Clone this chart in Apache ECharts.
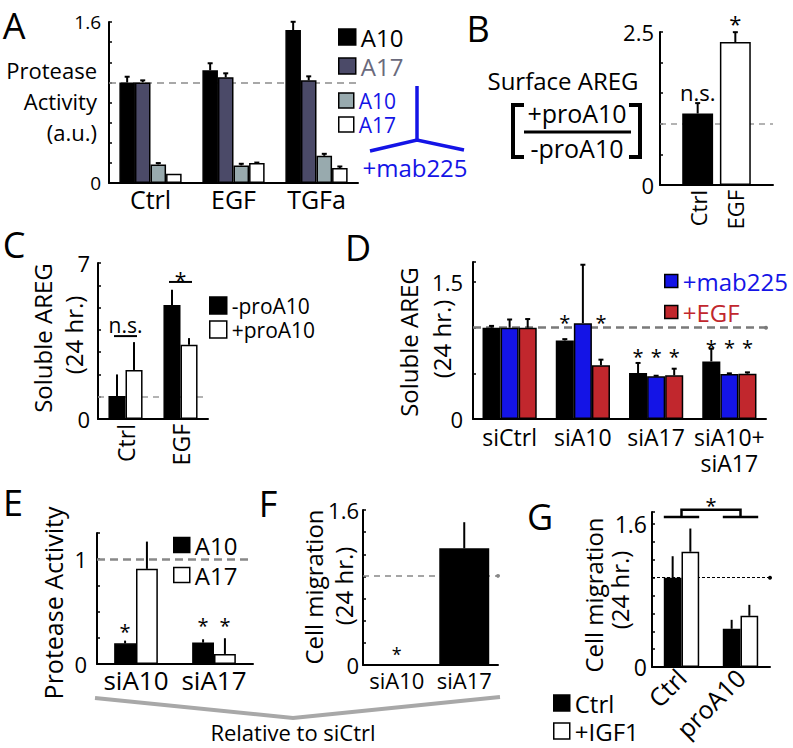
<!DOCTYPE html>
<html><head><meta charset="utf-8">
<script src="https://cdn.jsdelivr.net/npm/echarts@6/dist/echarts.min.js"></script>
<style>html,body{margin:0;padding:0;background:#fff}#c{width:793px;height:748px}</style>
</head><body><div id="c"></div>
<script>
// ---------------- DATA ----------------
// Panel A : protease activity (a.u.)
const aCats = ['Ctrl', 'EGF', 'TGFa'];
const aA10 = [1.0, 1.12, 1.52];
const aA10Err = [0.056, 0.07, 0.082];
const aA17 = [1.0, 1.05, 1.02];
const aA17Err = [0.02, 0.04, 0.04];
const aA10mab = [0.185, 0.175, 0.27];
const aA10mabErr = [0.013, 0.016, 0.02];
const aA17mab = [0.092, 0.198, 0.148];
const aA17mabErr = [0, 0.005, 0.016];
const aYTicks = ['0', '1.6'];

// Panel B : surface AREG ratio
const bCats = ['', 'Ctrl', 'EGF', ''];
const bVals = [null, 1.168, 2.337, null];
const bErr = [null, 0.17, 0.16, null];
const bNoteCat = [1, 2];
const bNoteY = [1.52, 2.72];
const bNoteText = ['n.s.', '*'];
const bYTicks = ['0', '2.5'];

// Panel C : soluble AREG
const cCats = ['Ctrl', 'EGF'];
const cMinus = [1.03, 5.11];
const cMinusErr = [0.97, 0.69];
const cPlus = [2.2, 3.33];
const cPlusErr = [1.25, 0.3];
const cSigLineY = [3.72, 6.15];
const cSigTextY = [4.2, 6.46];
const cSigText = ['n.s.', '*'];
const cYTicks = ['0', '7'];

// Panel D : soluble AREG, siRNA
const dCats = ['siCtrl', 'siA10', 'siA17', 'siA10+\nsiA17'];
const dCtrl = [1.0, 0.86, 0.504, 0.631];
const dCtrlErr = [0.02, 0.015, 0.11, 0.139];
const dMab = [1.0, 1.05, 0.467, 0.493];
const dMabErr = [0.09, 0.64, 0.007, 0.007];
const dEgf = [1.0, 0.588, 0.478, 0.496];
const dEgfErr = [0.095, 0.062, 0.073, 0.015];
const dStarCat = [1, 1, 2, 2, 2, 3, 3, 3];
const dStarBar = [0, 2, 0, 1, 2, 0, 1, 2];
const dStarY = [1.1, 1.1, 0.73, 0.73, 0.73, 0.83, 0.83, 0.83];
const dYTicks = ['0', '1.5'];

// Panel E : protease activity, siRNA
const eCats = ['siA10', 'siA17'];
const eA10 = [0.197, 0.204];
const eA10Err = [0.026, 0.032];
const eA17 = [0.908, 0.096];
const eA17Err = [0.26, 0.15];
const eStarCat = [0, 1, 1];
const eStarBar = [0, 0, 1];
const eStarY = [0.35, 0.41, 0.41];
const eYTicks = ['0', '1'];

// Panel F : cell migration, siRNA
const fCats = ['siA10', 'siA17'];
const fVals = [0, 1.204];
const fErr = [0, 0.27];
const fStarCat = [0];
const fStarBar = [0];
const fStarY = [0.15];
const fRef = [0.922];
const fYTicks = ['0', '1.6'];

// Panel G : cell migration, proA10
const gCats = ['Ctrl', 'proA10'];
const gCtrl = [1.0, 0.428];
const gCtrlErr = [0.24, 0.1];
const gIgf = [1.29, 0.573];
const gIgfErr = [0.26, 0.123];
const gSigCats = [0, 1];
const gSigLevels = [1.68, 1.76];
const gSigStarY = [1.85];
const gSigText = ['*'];
const gYTicks = ['0', '1.6'];

// legend labels
const legendText = {
  'A:A10': 'A10', 'A:A17': 'A17', 'A:A10m': 'A10', 'A:A17m': 'A17',
  'C:-': '-proA10', 'C:+': '+proA10',
  'D:mab': '+mab225', 'D:egf': '+EGF',
  'E:A10': 'A10', 'E:A17': 'A17',
  'G:ctrl': 'Ctrl', 'G:igf': '+IGF1'
};

// ---------------- HELPERS ----------------
const FONT = "'Open Sans','Noto Sans',sans-serif";
const grids = [], xAxes = [], yAxes = [], series = [], legends = [], graphics = [];

function addPanel(p) {
  const i = grids.length;
  grids.push({left: p.grid[0], top: p.grid[1], width: p.grid[2], height: p.grid[3], containLabel: false, outerBoundsMode: 'none'});
  xAxes.push({gridIndex: i, type: 'category', data: p.cats, boundaryGap: p.boundaryGap !== false,
    axisLine: {show: true, onZero: false, lineStyle: {color: '#000', width: 2}},
    axisTick: {show: false}, splitLine: {show: false},
    axisLabel: {interval: 0, color: '#000', fontFamily: FONT, fontSize: p.xFont, rotate: p.xRotate || 0,
      margin: p.xMargin, lineHeight: p.xLineHeight || p.xFont}});
  yAxes.push({gridIndex: i, type: 'value', min: 0, max: p.max, interval: p.interval,
    axisLine: {show: true, lineStyle: {color: '#000', width: 2}},
    axisTick: {show: true, inside: true, length: 3, lineStyle: {color: '#000', width: 1.5}},
    splitLine: {show: false},
    axisLabel: {color: '#000', fontFamily: FONT, fontSize: p.yFont, margin: p.yMargin,
      showMinLabel: true, showMaxLabel: true,
      formatter: v => { for (const t of p.yTicks) if (Math.abs(parseFloat(t) - v) < 1e-3) return t; return ''; }}});
  return i;
}

function bar(i, name, vals, color, gap, extra) {
  return Object.assign({type: 'bar', name, xAxisIndex: i, yAxisIndex: i,
    data: vals.map(v => v == null ? '-' : v), barGap: '0%', barCategoryGap: gap,
    itemStyle: {color, borderColor: '#000', borderWidth: 1.5}, silent: true, animation: false, z: 2}, extra || {});
}

function barX(api, cat, k, n, gap) {
  const c = api.coord([cat, 0]);
  const band = api.size([1, 0])[0];
  const gw = band * (1 - gap);
  return c[0] - gw / 2 + gw / n * (k + 0.5);
}

function errBars(i, vals, errs, k, n, gap, cap, lw) {
  const data = vals.map((v, j) => (v == null || errs[j] == null) ? [j, NaN, NaN] : [j, v, v + errs[j]]);
  return {type: 'custom', xAxisIndex: i, yAxisIndex: i, data, silent: true, animation: false, z: 4, clip: false,
    renderItem(params, api) {
      const cat = api.value(0), v = api.value(1), t = api.value(2);
      if (isNaN(v) || !(t > v)) return null;
      const x = barX(api, cat, k, n, gap);
      const y0 = api.coord([cat, v])[1], y1 = api.coord([cat, t])[1];
      const st = {stroke: '#000', lineWidth: lw};
      const ch = [{type: 'line', shape: {x1: x, y1: y0, x2: x, y2: y1}, style: st}];
      if (cap) ch.push({type: 'line', shape: {x1: x - cap, y1: y1, x2: x + cap, y2: y1}, style: st});
      return {type: 'group', children: ch};
    }};
}

function notes(i, cats, bars, ys, texts, n, gap, size) {
  const data = cats.map((c, j) => [c, ys[j], bars ? bars[j] : -1]);
  return {type: 'custom', xAxisIndex: i, yAxisIndex: i, data, silent: true, animation: false, z: 5, clip: false,
    renderItem(params, api) {
      const cat = api.value(0), y = api.value(1), k = api.value(2);
      const text = texts[params.dataIndex];
      const x = k < 0 ? api.coord([cat, y])[0] : barX(api, cat, k, n, gap);
      const py = api.coord([cat, y])[1] + (text === '*' ? size * 0.22 : 0);
      return {type: 'text', x, y: py, style: {text, fill: '#000', font: size + 'px ' + FONT,
        textAlign: 'center', textVerticalAlign: 'middle', align: 'center', verticalAlign: 'middle'}};
    }};
}

function refLine(y, color, width, dash, endDot) {
  return {silent: true, z: 1, animation: false, symbol: ['none', endDot ? 'circle' : 'none'], symbolSize: endDot ? 4 : 0,
    label: {show: false}, lineStyle: {color, width, type: dash}, itemStyle: {color},
    emphasis: {disabled: true}, data: [{yAxis: y}]};
}

function legend(left, top, names, colors, size, lh, gap, iw, ih) {
  return {show: true, orient: 'vertical', left, top, itemWidth: iw, itemHeight: ih, itemGap: gap, icon: 'rect',
    selectedMode: false, padding: 0, formatter: n => legendText[n],
    textStyle: {fontFamily: FONT, fontSize: size, lineHeight: lh, color: '#000'},
    itemStyle: {borderColor: '#000', borderWidth: 1.5},
    data: names.map((n, j) => ({name: n, textStyle: {color: colors[j]}}))};
}

function txt(x, y, text, size, o) {
  o = o || {};
  return {type: 'text', x, y, rotation: o.rot || 0, silent: true, z: 10,
    style: {text, fill: o.color || '#000', font: size + 'px ' + FONT,
      textAlign: o.align || 'center', align: o.align || 'center',
      textVerticalAlign: 'middle', verticalAlign: 'middle'}};
}
function pline(points, color, w) {
  return {type: 'polyline', silent: true, z: 10, shape: {points}, style: {stroke: color, lineWidth: w, fill: null}};
}

// ---------------- PANELS ----------------
const BLUE = '#1414e6', RED = '#c1272d';

// A
const A = addPanel({grid: [109, 22, 249, 161], cats: aCats, max: 1.6, interval: 0.2, yTicks: aYTicks,
  yFont: 19, yMargin: 8, xFont: 25, xMargin: 3});
const aGap = 0.25;
const aCols = ['#000', '#4b4a68', '#98aaae', '#fff'];
series.push(bar(A, 'A:A10', aA10, aCols[0], '25%', {markLine: refLine(1, '#8c8c8c', 1.5, [7, 5])}));
series.push(bar(A, 'A:A17', aA17, aCols[1], '25%'));
series.push(bar(A, 'A:A10m', aA10mab, aCols[2], '25%'));
series.push(bar(A, 'A:A17m', aA17mab, aCols[3], '25%'));
[[aA10, aA10Err], [aA17, aA17Err], [aA10mab, aA10mabErr], [aA17mab, aA17mabErr]].forEach((d, k) =>
  series.push(errBars(A, d[0], d[1], k, 4, aGap, 2.5, 2)));
legends.push(legend(338, 25, ['A:A10', 'A:A17'], ['#000', '#6a6a7c'], 24, 23, 5, 17, 16));
legends.push(legend(338, 90, ['A:A10m', 'A:A17m'], [BLUE, BLUE], 21, 21, 3, 15, 15));

// B
const B = addPanel({grid: [660, 32, 113, 153], cats: bCats, boundaryGap: false, max: 2.5, interval: 0.5, yTicks: bYTicks,
  yFont: 22, yMargin: 6, xFont: 22, xMargin: 5, xRotate: 90});
const bCols = [null, '#000', '#fff', null];
series.push(bar(B, 'B:ratio', bVals, '#000', '18%', {
  data: bVals.map((v, j) => v == null ? '-' : {value: v, itemStyle: {color: bCols[j]}}),
  markLine: refLine(1, '#9a9a9a', 1.5, [6, 5])}));
series.push(errBars(B, bVals, bErr, 0, 1, 0.18, 2.5, 2));
series.push(notes(B, bNoteCat, null, bNoteY, bNoteText, 1, 0.18, 22));

// C
const C = addPanel({grid: [98, 263, 110, 156], cats: cCats, max: 7, interval: 1, yTicks: cYTicks,
  yFont: 22, yMargin: 8, xFont: 23, xMargin: 5, xRotate: 90});
const cGap = 0.38;
series.push(bar(C, 'C:-', cMinus, '#000', '38%', {markLine: refLine(1, '#9a9a9a', 1.5, [6, 5])}));
series.push(bar(C, 'C:+', cPlus, '#fff', '38%'));
series.push(errBars(C, cMinus, cMinusErr, 0, 2, cGap, 0, 2));
series.push(errBars(C, cPlus, cPlusErr, 1, 2, cGap, 0, 2));
series.push({type: 'custom', xAxisIndex: C, yAxisIndex: C, data: cSigLineY.map((y, j) => [j, y]), silent: true,
  animation: false, z: 5, clip: false,
  renderItem(params, api) {
    const cat = api.value(0), y = api.value(1);
    const x0 = barX(api, cat, 0, 2, cGap), x1 = barX(api, cat, 1, 2, cGap);
    const py = api.coord([cat, y])[1];
    return {type: 'line', shape: {x1: x0 - 3, y1: py, x2: x1 + 3, y2: py}, style: {stroke: '#000', lineWidth: 2}};
  }});
series.push(notes(C, [0, 1], null, cSigTextY, cSigText, 2, cGap, 21));
legends.push(legend(209, 295, ['C:-', 'C:+'], ['#000', '#000'], 21, 21, 3, 17, 17));

// D
const D = addPanel({grid: [473, 262, 293, 157], cats: dCats, max: 1.72, interval: 0.5, yTicks: dYTicks,
  yFont: 22, yMargin: 10, xFont: 23, xMargin: 5, xLineHeight: 26});
const dGap = 0.26;
series.push(bar(D, 'D:ctrl', dCtrl, '#000', '26%', {markLine: refLine(1, '#7a7a7a', 2.5, [8, 5], true)}));
series.push(bar(D, 'D:mab', dMab, BLUE, '26%'));
series.push(bar(D, 'D:egf', dEgf, RED, '26%'));
[[dCtrl, dCtrlErr], [dMab, dMabErr], [dEgf, dEgfErr]].forEach((d, k) =>
  series.push(errBars(D, d[0], d[1], k, 3, dGap, 2.5, 2)));
series.push(notes(D, dStarCat, dStarBar, dStarY, dStarCat.map(() => '*'), 3, dGap, 20));
legends.push(legend(664, 269, ['D:mab', 'D:egf'], [BLUE, RED], 24, 24, 7, 13, 13));

// E
const E = addPanel({grid: [97, 533, 156, 131], cats: eCats, max: 1.25, interval: 0.25, yTicks: eYTicks,
  yFont: 22, yMargin: 10, xFont: 26, xMargin: 3});
const eGap = 0.44;
series.push(bar(E, 'E:A10', eA10, '#000', '44%', {markLine: refLine(1, '#888', 2.5, [8, 5])}));
series.push(bar(E, 'E:A17', eA17, '#fff', '44%'));
series.push(errBars(E, eA10, eA10Err, 0, 2, eGap, 0, 2));
series.push(errBars(E, eA17, eA17Err, 1, 2, eGap, 0, 2));
series.push(notes(E, eStarCat, eStarBar, eStarY, eStarCat.map(() => '*'), 2, eGap, 20));
legends.push(legend(173, 533, ['E:A10', 'E:A17'], ['#000', '#000'], 24, 24, 6, 16, 15));

// F
const F = addPanel({grid: [363, 510, 135, 155], cats: fCats, max: 1.6, interval: 1.6 / 7, yTicks: fYTicks,
  yFont: 22, yMargin: 4, xFont: 22, xMargin: 4});
const fGap = 0.26;
series.push(bar(F, 'F:mig', fVals, '#000', '26%', {markLine: refLine(fRef[0], '#888', 1.5, [6, 5], true)}));
series.push(errBars(F, fVals, fErr, 0, 1, fGap, 0, 2));
series.push(notes(F, fStarCat, fStarBar, fStarY, ['*'], 1, fGap, 18));

// G
const G = addPanel({grid: [652, 512, 118, 155], cats: gCats, max: 1.735, interval: 0.2, yTicks: gYTicks,
  yFont: 23, yMargin: 5, xFont: 25, xMargin: 6, xRotate: 45});
const gGap = 0.4;
series.push(bar(G, 'G:ctrl', gCtrl, '#000', '40%', {markLine: refLine(1, '#000', 1, [3, 2], true)}));
series.push(bar(G, 'G:igf', gIgf, '#fff', '40%'));
series.push(errBars(G, gCtrl, gCtrlErr, 0, 2, gGap, 0, 2));
series.push(errBars(G, gIgf, gIgfErr, 1, 2, gGap, 0, 2));
series.push({type: 'custom', xAxisIndex: G, yAxisIndex: G, data: [[gSigCats[0], gSigCats[1], gSigLevels[0], gSigLevels[1], gSigStarY[0]]],
  silent: true, animation: false, z: 5, clip: false,
  renderItem(params, api) {
    const c0 = api.value(0), c1 = api.value(1), lo = api.value(2), hi = api.value(3), sy = api.value(4);
    const p0 = api.coord([c0, lo]), p1 = api.coord([c1, lo]), yh = api.coord([c0, hi])[1], ys = api.coord([c0, sy])[1];
    const gw = api.size([1, 0])[0] * (1 - gGap);
    const st = {stroke: '#000', lineWidth: 2.5, fill: null};
    return {type: 'group', children: [
      {type: 'line', shape: {x1: p0[0] - gw / 2, y1: p0[1], x2: p0[0] + gw / 2, y2: p0[1]}, style: st},
      {type: 'line', shape: {x1: p1[0] - gw / 2, y1: p1[1], x2: p1[0] + gw / 2, y2: p1[1]}, style: st},
      {type: 'polyline', shape: {points: [[p0[0], p0[1]], [p0[0], yh], [p1[0], yh], [p1[0], p1[1]]]}, style: st},
      {type: 'text', x: (p0[0] + p1[0]) / 2, y: ys + 4, style: {text: gSigText[0], fill: '#000', font: '20px ' + FONT,
        textAlign: 'center', textVerticalAlign: 'middle', align: 'center', verticalAlign: 'middle'}}
    ]};
  }});
legends.push(legend(553, 691, ['G:ctrl', 'G:igf'], ['#000', '#000'], 24, 24, 4, 16, 16));

// ---------------- TEXT & DECORATION ----------------
const R90 = Math.PI / 2;
['A', 'B', 'C', 'D', 'E', 'F', 'G'].forEach((L, j) => {
  const pos = [[14, 25], [478, 28], [14, 244], [358, 247], [13, 502], [268, 503], [540, 516]][j];
  graphics.push(txt(pos[0], pos[1], L, 36));
});
// A title
graphics.push(txt(97, 70, 'Protease', 22, {align: 'right'}));
graphics.push(txt(97, 101, 'Activity', 22, {align: 'right'}));
graphics.push(txt(97, 132, '(a.u.)', 22, {align: 'right'}));
// A mab225 bracket
graphics.push(pline([[417, 86], [417, 140]], BLUE, 3.5));
graphics.push(pline([[370, 151], [417, 140], [464, 150]], BLUE, 3.5));
graphics.push(txt(415, 167, '+mab225', 24, {color: BLUE}));
// B title
graphics.push(txt(563, 80, 'Surface AREG', 24));
graphics.push(txt(577, 113, '+proA10', 25));
graphics.push(txt(577, 148, '-proA10', 25));
graphics.push(pline([[524, 132], [631, 132]], '#000', 3));
graphics.push(pline([[524, 105], [513, 105], [513, 157], [524, 157]], '#000', 4));
graphics.push(pline([[629, 105], [640, 105], [640, 157], [629, 157]], '#000', 4));
// C title
graphics.push(txt(42, 338, 'Soluble AREG', 24, {rot: R90}));
graphics.push(txt(73, 335, '(24 hr.)', 24, {rot: R90}));
// D title
graphics.push(txt(408, 342, 'Soluble AREG', 24, {rot: R90}));
graphics.push(txt(441, 339, '(24 hr.)', 24, {rot: R90}));
// E title
graphics.push(txt(53, 603, 'Protease Activity', 25, {rot: R90}));
// F title
graphics.push(txt(313, 587, 'Cell migration', 24, {rot: R90}));
graphics.push(txt(343, 586, '(24 hr.)', 24, {rot: R90}));
// G title
graphics.push(txt(593, 595, 'Cell migration', 24, {rot: R90}));
graphics.push(txt(619, 590, '(24 hr.)', 24, {rot: R90}));
// brace under E/F
graphics.push(pline([[95, 698], [293, 718], [500, 697]], '#a8a8a8', 4));
graphics.push(txt(293, 732, 'Relative to siCtrl', 22));

// ---------------- CHART ----------------
const chart = echarts.init(document.getElementById('c'), null, {renderer: 'svg', width: 793, height: 748});
chart.setOption({
  backgroundColor: '#fff',
  animation: false,
  textStyle: {fontFamily: FONT},
  grid: grids, xAxis: xAxes, yAxis: yAxes, legend: legends, series, graphic: graphics
});
</script></body></html>
